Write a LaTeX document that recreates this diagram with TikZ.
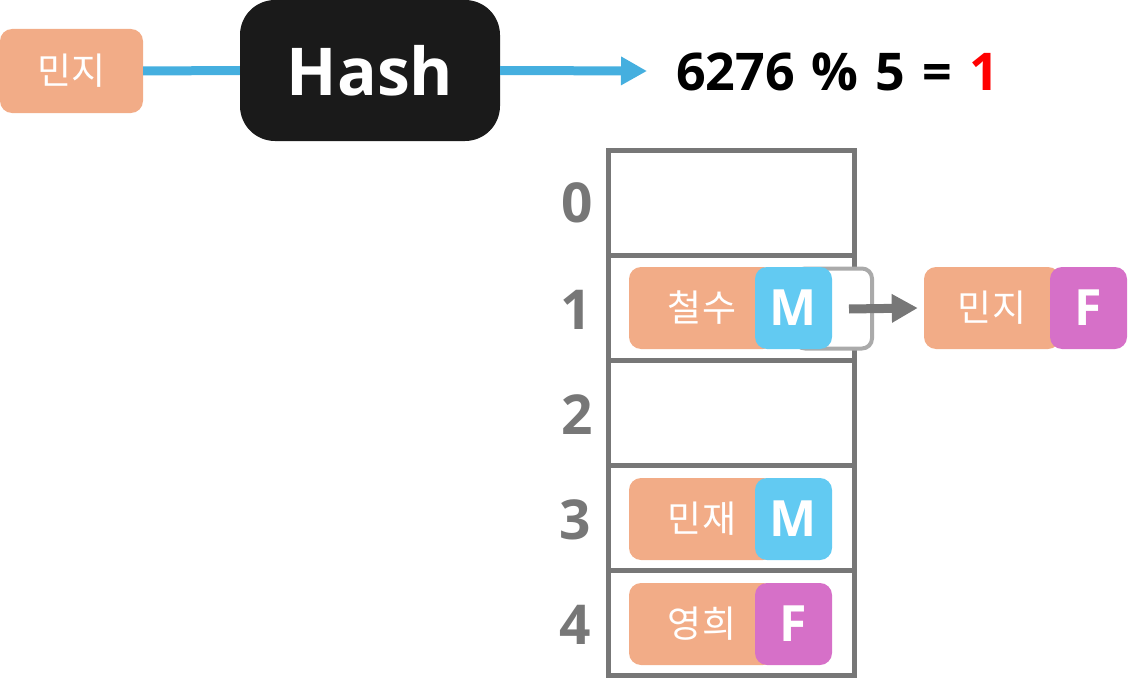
\documentclass[tikz,border=0pt]{standalone}
\usepackage{fontspec}
\setmainfont{Open Sans}
\newfontfamily\krfont{Noto Sans CJK KR}
\usetikzlibrary{arrows.meta}
\definecolor{orng}{HTML}{F2AC87}
\definecolor{mblue}{HTML}{62CAF2}
\definecolor{fpurple}{HTML}{D670C8}
\definecolor{hashblack}{HTML}{1A1A1A}
\definecolor{lineblue}{HTML}{45AFDF}
\definecolor{tgray}{HTML}{777777}
\definecolor{lgray}{HTML}{AAAAAA}
\begin{document}
\begin{tikzpicture}[x=1pt,y=-1pt,
  namebox/.style={fill=orng, rounded corners=12pt, minimum height=82pt, inner sep=0pt, text=white, font=\krfont\fontsize{37}{40}\selectfont},
  tagM/.style={fill=mblue, rounded corners=12pt, minimum width=77pt, minimum height=82pt, inner sep=0pt, text=white, font=\bfseries\fontsize{50}{56}\selectfont},
  tagF/.style={tagM, fill=fpurple},
  cell/.style={draw=tgray, line width=5pt, minimum width=246pt, minimum height=105pt, inner sep=0pt},
  idx/.style={text=tgray, font=\bfseries\fontsize{55}{60}\selectfont, inner sep=0pt},
  bluearrow/.style={draw=lineblue, line width=9pt},
  grayarrow/.style={draw=tgray, line width=9pt, -{Triangle[length=26pt,width=27pt]}}
]
\useasboundingbox (0,0) rectangle (1133,685);

% top row
\node[namebox, minimum width=143pt, minimum height=84pt] (key) at (71.5,71) {민지};
\node[fill=hashblack, rounded corners=35pt, minimum width=260pt, minimum height=141pt, inner sep=0pt, text=white, font=\bfseries\fontsize{66}{76}\selectfont] (hash) at (370,70.5) {Hash};
\node[anchor=base west, inner sep=0pt, font=\bfseries\fontsize{52}{60}\selectfont] (eq) at (676,90) {\spaceskip=17pt 6276 \% 5 = \textcolor{red}{1}};
\draw[bluearrow] (key.east) -- (hash.west);
\coordinate (tip) at (647,71);
\draw[bluearrow, -{Triangle[length=26pt,width=27pt]}] (hash.east) -- (tip);

% table
\node[cell] (c0) at (731,203) {};
\node[cell] (c1) at (731,308) {};
\node[cell] (c2) at (731,413) {};
\node[cell] (c3) at (731,518) {};
\node[cell] (c4) at (731,623) {};

\node[idx] (i0) at (577,203) {0};
\node[idx] (i1) at (576,310) {1};
\node[idx] (i2) at (577,415) {2};
\node[idx] (i3) at (575,520) {3};
\node[idx] (i4) at (575,625) {4};

% row 1
\node[draw=lgray, line width=4pt, fill=white, rounded corners=10pt, minimum width=77pt, minimum height=80pt, inner sep=0pt] (next) at (833.5,308.5) {};
\node[namebox, minimum width=146pt] (n1) at (702,308) {철수};
\node[tagM] (g1) at (793.5,308) {M};
\coordinate (ptr) at (849,309);
\node[namebox, minimum width=136pt] (n5) at (992,308) {민지};
\node[tagF] (g5) at (1088.5,308) {F};
\draw[grayarrow] (ptr) -- ([xshift=-6pt]n5.west);

% row 3
\node[namebox, minimum width=146pt] (n3) at (702,519) {민재};
\node[tagM] (g3) at (793.5,519) {M};

% row 4
\node[namebox, minimum width=146pt] (n4) at (702,624) {영희};
\node[tagF] (g4) at (793.5,624) {F};
\end{tikzpicture}
\end{document}
